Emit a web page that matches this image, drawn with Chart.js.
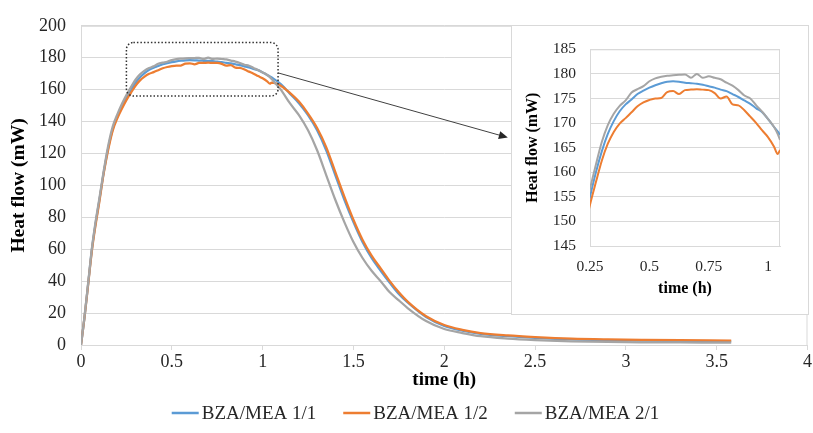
<!DOCTYPE html>
<html>
<head>
<meta charset="utf-8">
<script src="https://cdn.jsdelivr.net/npm/chart.js@4.4.1/dist/chart.umd.min.js"></script>
<style>
  body { margin: 0; background: #fff; }
  #wrap { position: relative; width: 813px; height: 433px; }
  canvas { display: block; }
  #inset { position: absolute; left: 511px; top: 25px; width: 296px; height: 288px; border: 1px solid #d9d9d9; background: #fff; }
</style>
</head>
<body>
<div id="wrap">
  <canvas id="main" width="813" height="433"></canvas>
  <div id="inset"><canvas id="zoom" width="296" height="288"></canvas></div>
</div>
<script>
// time (h)
const tempo = [0, 0.02, 0.04, 0.06, 0.08, 0.1, 0.125, 0.15, 0.175, 0.2, 0.225,
  0.25, 0.275, 0.3, 0.325, 0.35, 0.375, 0.4, 0.425, 0.45, 0.475,
  0.5, 0.525, 0.55, 0.575, 0.6, 0.625, 0.65, 0.675, 0.7, 0.725,
  0.75, 0.775, 0.8, 0.825, 0.85, 0.875, 0.9, 0.925, 0.95, 0.975,
  1, 1.025, 1.04, 1.05,
  1.1, 1.15, 1.2, 1.25, 1.3, 1.35, 1.4, 1.45, 1.5, 1.55,
  1.6, 1.65, 1.7, 1.75, 1.8, 1.9, 2, 2.1, 2.2, 2.35,
  2.5, 2.7, 2.9, 3.1, 3.3, 3.58];

// heat flow (mW)
const bza11 = [0, 18, 39, 60, 76, 90, 108, 123.5, 135.5, 143, 149.5,
  155.0, 160.0, 164.3, 167.8, 170.4, 172.4, 173.8, 174.8, 175.9, 176.6,
  177.2, 177.7, 178.1, 178.4, 178.5, 178.4, 178.2, 178.1, 178.0, 177.8,
  177.5, 177.2, 176.8, 176.5, 175.9, 175.3, 174.6, 173.9, 173.0, 172.2,
  170.8, 169.2, 168.3, 167.6,
  163.5, 157.5, 151.5, 144, 134.5, 122, 106.5, 91, 77, 64.5,
  54.5, 46.5, 39, 32, 26.5, 17.5, 12, 9, 7, 5.5,
  4.5, 3.5, 3, 2.7, 2.5, 2.2];

const bza12 = [0, 18, 38.5, 59, 75, 89, 107.5, 122.5, 134.5, 142, 148,
  153.4, 158.0, 162.4, 165.8, 168.2, 169.9, 171.0, 172.2, 173.4, 174.2,
  174.7, 175.0, 175.1, 176.3, 176.5, 175.9, 176.7, 176.8, 176.9, 176.8,
  176.7, 176.1, 175.0, 175.4, 173.8, 173.6, 172.6, 171.3, 170.0, 168.5,
  167.1, 165.2, 163.7, 164.4,
  162.5, 158, 152.5, 145, 136, 124, 108.5, 93, 78.5, 66,
  56, 48, 40, 33, 27, 18, 12.5, 9.5, 7.5, 6,
  5, 4, 3.5, 3.2, 3, 2.8];

const bza21 = [0, 18.5, 39.5, 60.5, 77, 91, 109, 125, 137, 144.5, 151,
  156.6, 161.6, 166.2, 169.6, 171.9, 173.5, 174.6, 176.2, 176.9, 177.5,
  178.5, 179.1, 179.4, 179.6, 179.7, 179.8, 179.9, 179.2, 180.0, 179.2,
  179.5, 179.2, 178.9, 178.2, 177.6, 176.7, 175.6, 175.0, 173.6, 172.3,
  170.8, 169.2, 167.8, 166.6,
  160, 151.5, 144, 134.5, 122, 106.5, 91, 77, 64.5, 54.5,
  46.5, 40, 33, 28, 23, 15, 10, 7.5, 5.5, 4,
  3.1, 2.3, 1.9, 1.7, 1.6, 1.5];

const nomes = ['BZA/MEA 1/1', 'BZA/MEA 1/2', 'BZA/MEA 2/1'];
const cores = ['#5b9bd5', '#ed7d31', '#a5a5a5'];
const ticksX = [0, 0.5, 1, 1.5, 2, 2.5, 3, 3.5, 4];
const ticksXZoom = [0.25, 0.5, 0.75, 1];

const serif = "'Liberation Serif', 'Times New Roman', serif";

function montarDatasets(largura) {
    return [bza11, bza12, bza21].map(function (serie, i) {
        return {
            label: nomes[i],
            data: tempo.map((t, j) => ({ x: t, y: serie[j] })),
            borderColor: cores[i],
            backgroundColor: cores[i],
            borderWidth: largura,
            pointRadius: 0,
            cubicInterpolationMode: 'monotone',
            order: 3 - i
        };
    });
}

// borda da area do grafico
const borda = {
    id: 'borda',
    beforeDatasetsDraw(chart) {
        const { ctx, chartArea: a } = chart;
        ctx.save();
        ctx.strokeStyle = '#d9d9d9';
        ctx.lineWidth = 1;
        ctx.strokeRect(a.left + 0.5, a.top + 0.5, a.right - a.left - 1, a.bottom - a.top);
        ctx.restore();
    }
};

// caixa pontilhada, seta e legenda
const destaque = {
    id: 'destaque',
    afterDraw(chart) {
        const { ctx, scales: { x, y } } = chart;
        ctx.save();

        const x0 = x.getPixelForValue(0.25), x1 = x.getPixelForValue(1.085);
        const y0 = y.getPixelForValue(189.5), y1 = y.getPixelForValue(156);
        ctx.setLineDash([1.5, 2]);
        ctx.strokeStyle = '#333';
        ctx.lineWidth = 1.5;
        ctx.beginPath();
        ctx.roundRect(x0, y0, x1 - x0, y1 - y0, 7);
        ctx.stroke();

        ctx.setLineDash([]);
        const ax = x1, ay = y.getPixelForValue(170.5);
        const bx = x.getPixelForValue(2.35), by = y.getPixelForValue(130);
        const ang = Math.atan2(by - ay, bx - ax);
        ctx.strokeStyle = '#404040';
        ctx.fillStyle = '#262626';
        ctx.lineWidth = 1;
        ctx.beginPath();
        ctx.moveTo(ax, ay);
        ctx.lineTo(bx - 6 * Math.cos(ang), by - 6 * Math.sin(ang));
        ctx.stroke();
        ctx.beginPath();
        ctx.moveTo(bx, by);
        ctx.lineTo(bx - 9 * Math.cos(ang) + 4 * Math.sin(ang), by - 9 * Math.sin(ang) - 4 * Math.cos(ang));
        ctx.lineTo(bx - 9 * Math.cos(ang) - 4 * Math.sin(ang), by - 9 * Math.sin(ang) + 4 * Math.cos(ang));
        ctx.closePath();
        ctx.fill();

        // legenda
        ctx.font = '19px ' + serif;
        ctx.textBaseline = 'middle';
        const larguras = nomes.map(n => ctx.measureText(n).width);
        const linha = 27, folga = 3, entre = 27;
        const total = larguras.reduce((a, b) => a + b, 0) + 3 * (linha + folga) + 2 * entre;
        let px = chart.width / 2 + 9 - total / 2;
        const py = 413;
        for (let i = 0; i < nomes.length; i++) {
            ctx.strokeStyle = cores[i];
            ctx.lineWidth = 2.5;
            ctx.beginPath();
            ctx.moveTo(px, py);
            ctx.lineTo(px + linha, py);
            ctx.stroke();
            ctx.fillStyle = '#262626';
            ctx.fillText(nomes[i], px + linha + folga, py + 1);
            px += linha + folga + larguras[i] + entre;
        }
        ctx.restore();
    }
};

let grafico = new Chart(document.getElementById('main'), {
    type: 'line',
    data: { datasets: montarDatasets(2.25) },
    options: {
        responsive: false,
        animation: false,
        layout: { padding: { left: 0, right: 5, top: 25, bottom: 36 } },
        plugins: { legend: { display: false }, tooltip: { enabled: false } },
        scales: {
            x: {
                type: 'linear', min: 0, max: 4,
                afterBuildTicks: s => { s.ticks = ticksX.map(v => ({ value: v })); },
                afterFit: s => { s.height = 52; },
                grid: { drawOnChartArea: false, drawTicks: true, tickLength: 5, color: '#d9d9d9' },
                border: { color: '#d9d9d9' },
                ticks: { font: { family: serif, size: 18 }, color: '#262626', padding: 1, maxRotation: 0, callback: v => String(v) },
                title: { display: true, text: 'time (h)', color: '#000', font: { family: serif, size: 19, weight: 'bold' }, padding: { top: 0, bottom: 6 } }
            },
            y: {
                min: 0, max: 200,
                afterFit: s => { s.width = 81; },
                grid: { color: '#d9d9d9', drawTicks: false },
                border: { color: '#d9d9d9' },
                ticks: { stepSize: 20, font: { family: serif, size: 18 }, color: '#262626', padding: 15 },
                title: { display: true, text: 'Heat flow (mW)', color: '#000', font: { family: serif, size: 19.5, weight: 'bold' }, padding: { top: 7, bottom: 0 } }
            }
        }
    },
    plugins: [borda, destaque]
});

let graficoZoom = new Chart(document.getElementById('zoom'), {
    type: 'line',
    data: { datasets: montarDatasets(2) },
    options: {
        responsive: false,
        animation: false,
        layout: { padding: { left: 0, right: 28, top: 14, bottom: 0 } },
        plugins: { legend: { display: false }, tooltip: { enabled: false } },
        scales: {
            x: {
                type: 'linear', min: 0.25, max: 1.05,
                afterBuildTicks: s => { s.ticks = ticksXZoom.map(v => ({ value: v })); },
                afterFit: s => { s.height = 68; },
                grid: { drawOnChartArea: false, drawTicks: false },
                border: { color: '#d9d9d9' },
                ticks: { font: { family: serif, size: 15.5 }, color: '#262626', padding: 12, maxRotation: 0, callback: v => String(v) },
                title: { display: true, text: 'time (h)', color: '#000', font: { family: serif, size: 16, weight: 'bold' }, padding: { top: 0, bottom: 16 } }
            },
            y: {
                min: 145, max: 185,
                afterFit: s => { s.width = 78; },
                grid: { color: '#d9d9d9', drawTicks: false },
                border: { color: '#d9d9d9' },
                ticks: { stepSize: 5, font: { family: serif, size: 15.5 }, color: '#262626', padding: 14 },
                title: { display: true, text: 'Heat flow (mW)', color: '#000', font: { family: serif, size: 16, weight: 'bold' }, padding: { top: 11, bottom: 0 } }
            }
        }
    },
    plugins: [borda]
});
</script>
</body>
</html>
